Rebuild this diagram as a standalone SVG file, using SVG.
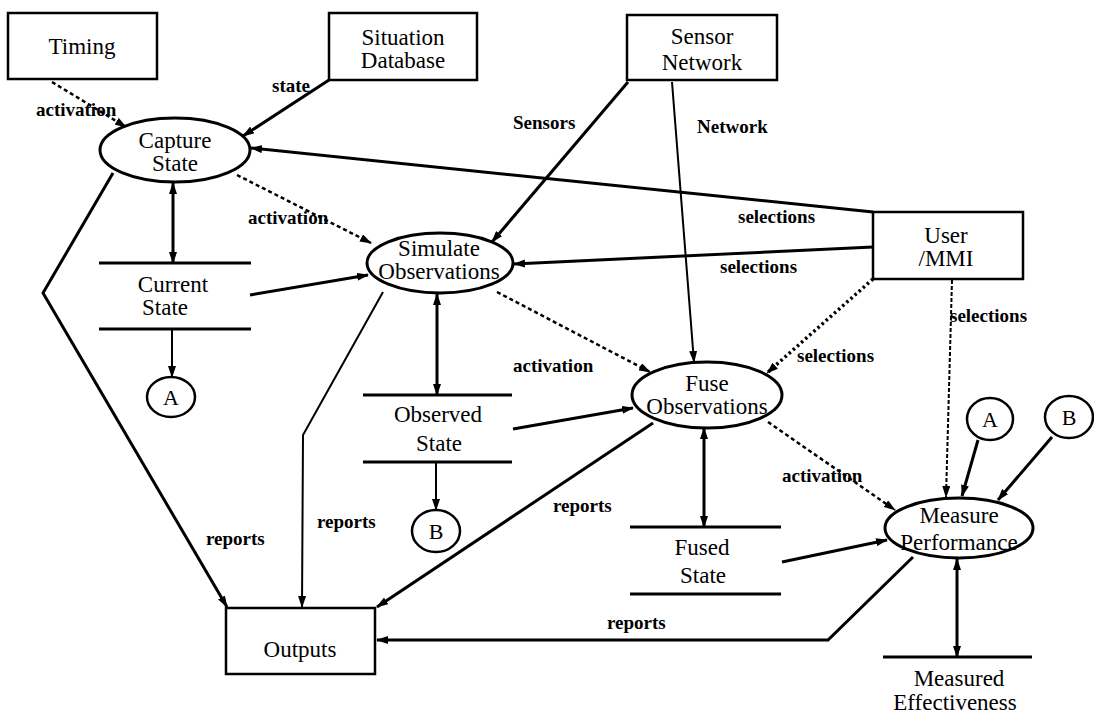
<svg xmlns="http://www.w3.org/2000/svg" width="1094" height="721" viewBox="0 0 1094 721">
<style>
.bg{fill:#fff}
.box{fill:#fff;stroke:#000;stroke-width:2.5}
.proc{fill:#fff;stroke:#000;stroke-width:3}
.store{stroke:#000;stroke-width:3}
.conn{fill:none;stroke:#000;stroke-width:3}
.thin{fill:none;stroke:#000;stroke-width:2}
.dash{fill:none;stroke:#000;stroke-width:2.5;stroke-dasharray:4 3}
.dot{fill:none;stroke:#000;stroke-width:3.5;stroke-dasharray:2.5 3}
.dashv{fill:none;stroke:#000;stroke-width:2;stroke-dasharray:4 2}
.t{font-family:"Liberation Serif","Times New Roman",serif;font-size:23px;fill:#000;text-anchor:middle}
.c{font-family:"Liberation Serif","Times New Roman",serif;font-size:22px;fill:#000;text-anchor:middle}
.lbl{font-family:"Liberation Serif","Times New Roman",serif;font-size:19px;font-weight:bold;fill:#000}
</style>
<defs>
<marker id="ah" viewBox="0 0 12 8" refX="11" refY="4" markerWidth="12" markerHeight="8" markerUnits="userSpaceOnUse" orient="auto-start-reverse">
<path d="M0,0 L12,4 L0,8 z" fill="#000"/>
</marker>
</defs>
<rect class="bg" x="0" y="0" width="1094" height="721"/>

<g id="connectors">
<line class="dash" x1="52" y1="82" x2="126" y2="127" marker-end="url(#ah)"/>
<line class="conn" x1="329" y1="80" x2="243" y2="136" marker-end="url(#ah)"/>
<line class="conn" x1="873" y1="212" x2="251" y2="148" marker-end="url(#ah)"/>
<line class="conn" x1="873" y1="247" x2="514" y2="264" marker-end="url(#ah)"/>
<line class="dash" x1="237" y1="175" x2="371" y2="243" marker-end="url(#ah)"/>
<line class="conn" x1="173" y1="183" x2="173" y2="263" marker-start="url(#ah)" marker-end="url(#ah)"/>
<line class="conn" x1="250" y1="295" x2="368" y2="275" marker-end="url(#ah)"/>
<line class="thin" x1="172" y1="329" x2="172" y2="377" marker-end="url(#ah)"/>
<polyline class="conn" points="113,173 43,293 227,607" marker-end="url(#ah)"/>
<line class="conn" x1="628" y1="82" x2="492" y2="242" marker-end="url(#ah)"/>
<line class="thin" x1="672" y1="82" x2="694" y2="362" marker-end="url(#ah)"/>
<line class="dash" x1="497" y1="292" x2="650" y2="372" marker-end="url(#ah)"/>
<line class="conn" x1="513" y1="429" x2="633" y2="408" marker-end="url(#ah)"/>
<line class="conn" x1="437" y1="294" x2="437" y2="395" marker-start="url(#ah)" marker-end="url(#ah)"/>
<line class="thin" x1="436" y1="462" x2="436" y2="510" marker-end="url(#ah)"/>
<polyline class="thin" points="383,292 303,435 302,607" marker-end="url(#ah)"/>
<line class="conn" x1="653" y1="423" x2="377" y2="607" marker-end="url(#ah)"/>
<line class="dot" x1="873" y1="279" x2="767" y2="373" marker-end="url(#ah)"/>
<line class="dashv" x1="952" y1="280" x2="946" y2="497" marker-end="url(#ah)"/>
<line class="dash" x1="768" y1="422" x2="895" y2="510" marker-end="url(#ah)"/>
<line class="conn" x1="782" y1="562" x2="887" y2="540" marker-end="url(#ah)"/>
<line class="conn" x1="704" y1="428" x2="704" y2="527" marker-start="url(#ah)" marker-end="url(#ah)"/>
<line class="conn" x1="978" y1="440" x2="962" y2="496" marker-end="url(#ah)"/>
<line class="conn" x1="1052" y1="437" x2="998" y2="500" marker-end="url(#ah)"/>
<line class="conn" x1="957" y1="559" x2="957" y2="657" marker-start="url(#ah)" marker-end="url(#ah)"/>
<polyline class="conn" points="913,557 828,640 377,640" marker-end="url(#ah)"/>
</g>

<g id="labels">
<text class="lbl" x="36" y="116">activation</text>
<text class="lbl" x="272" y="92">state</text>
<text class="lbl" x="248" y="224">activation</text>
<text class="lbl" x="513" y="129">Sensors</text>
<text class="lbl" x="697" y="133">Network</text>
<text class="lbl" x="738" y="223">selections</text>
<text class="lbl" x="720" y="273">selections</text>
<text class="lbl" x="797" y="362">selections</text>
<text class="lbl" x="950" y="322">selections</text>
<text class="lbl" x="513" y="372">activation</text>
<text class="lbl" x="782" y="482">activation</text>
<text class="lbl" x="206" y="545">reports</text>
<text class="lbl" x="317" y="528">reports</text>
<text class="lbl" x="553" y="512">reports</text>
<text class="lbl" x="607" y="629">reports</text>
</g>

<g id="timing">
<rect class="box" x="8" y="13" width="149" height="66"/>
<text class="t" x="82" y="54">Timing</text>
</g>
<g id="situation-database">
<rect class="box" x="329" y="13" width="148" height="67"/>
<text class="t" x="403" y="45">Situation</text>
<text class="t" x="403" y="68">Database</text>
</g>
<g id="sensor-network">
<rect class="box" x="627" y="15" width="150" height="65"/>
<text class="t" x="702" y="44">Sensor</text>
<text class="t" x="702" y="70">Network</text>
</g>
<g id="user-mmi">
<rect class="box" x="873" y="212" width="150" height="67"/>
<text class="t" x="946" y="243">User</text>
<text class="t" x="946" y="266">/MMI</text>
</g>
<g id="outputs">
<rect class="box" x="226" y="608" width="149" height="66"/>
<text class="t" x="300" y="657">Outputs</text>
</g>

<g id="capture-state">
<ellipse class="proc" cx="175" cy="150" rx="75" ry="32"/>
<text class="t" x="175" y="148">Capture</text>
<text class="t" x="175" y="171">State</text>
</g>
<g id="simulate-observations">
<ellipse class="proc" cx="440" cy="263" rx="73" ry="30"/>
<text class="t" x="439" y="256">Simulate</text>
<text class="t" x="439" y="279">Observations</text>
</g>
<g id="fuse-observations">
<ellipse class="proc" cx="707" cy="395" rx="75" ry="33"/>
<text class="t" x="707" y="391">Fuse</text>
<text class="t" x="707" y="414">Observations</text>
</g>
<g id="measure-performance">
<ellipse class="proc" cx="959" cy="528" rx="74" ry="30"/>
<text class="t" x="959" y="523">Measure</text>
<text class="t" x="959" y="550">Performance</text>
</g>

<g id="current-state">
<line class="store" x1="99" y1="263" x2="251" y2="263"/>
<line class="store" x1="99" y1="329" x2="251" y2="329"/>
<text class="t" x="173" y="292">Current</text>
<text class="t" x="165" y="315">State</text>
</g>
<g id="observed-state">
<line class="store" x1="363" y1="395" x2="512" y2="395"/>
<line class="store" x1="363" y1="462" x2="512" y2="462"/>
<text class="t" x="438" y="422">Observed</text>
<text class="t" x="439" y="451">State</text>
</g>
<g id="fused-state">
<line class="store" x1="630" y1="527" x2="781" y2="527"/>
<line class="store" x1="630" y1="594" x2="781" y2="594"/>
<text class="t" x="702" y="555">Fused</text>
<text class="t" x="703" y="583">State</text>
</g>
<g id="measured-effectiveness">
<line class="store" x1="883" y1="657" x2="1032" y2="657"/>
<text class="t" x="959" y="686">Measured</text>
<text class="t" x="955" y="710">Effectiveness</text>
</g>

<g id="connector-a-left">
<ellipse class="box" cx="171" cy="397" rx="24" ry="20"/>
<text class="c" x="171" y="405">A</text>
</g>
<g id="connector-b-left">
<ellipse class="box" cx="436" cy="531" rx="24" ry="21"/>
<text class="c" x="436" y="539">B</text>
</g>
<g id="connector-a-right">
<ellipse class="box" cx="990" cy="419" rx="23" ry="21"/>
<text class="c" x="990" y="427">A</text>
</g>
<g id="connector-b-right">
<ellipse class="box" cx="1069" cy="417" rx="24" ry="21"/>
<text class="c" x="1069" y="425">B</text>
</g>
</svg>
